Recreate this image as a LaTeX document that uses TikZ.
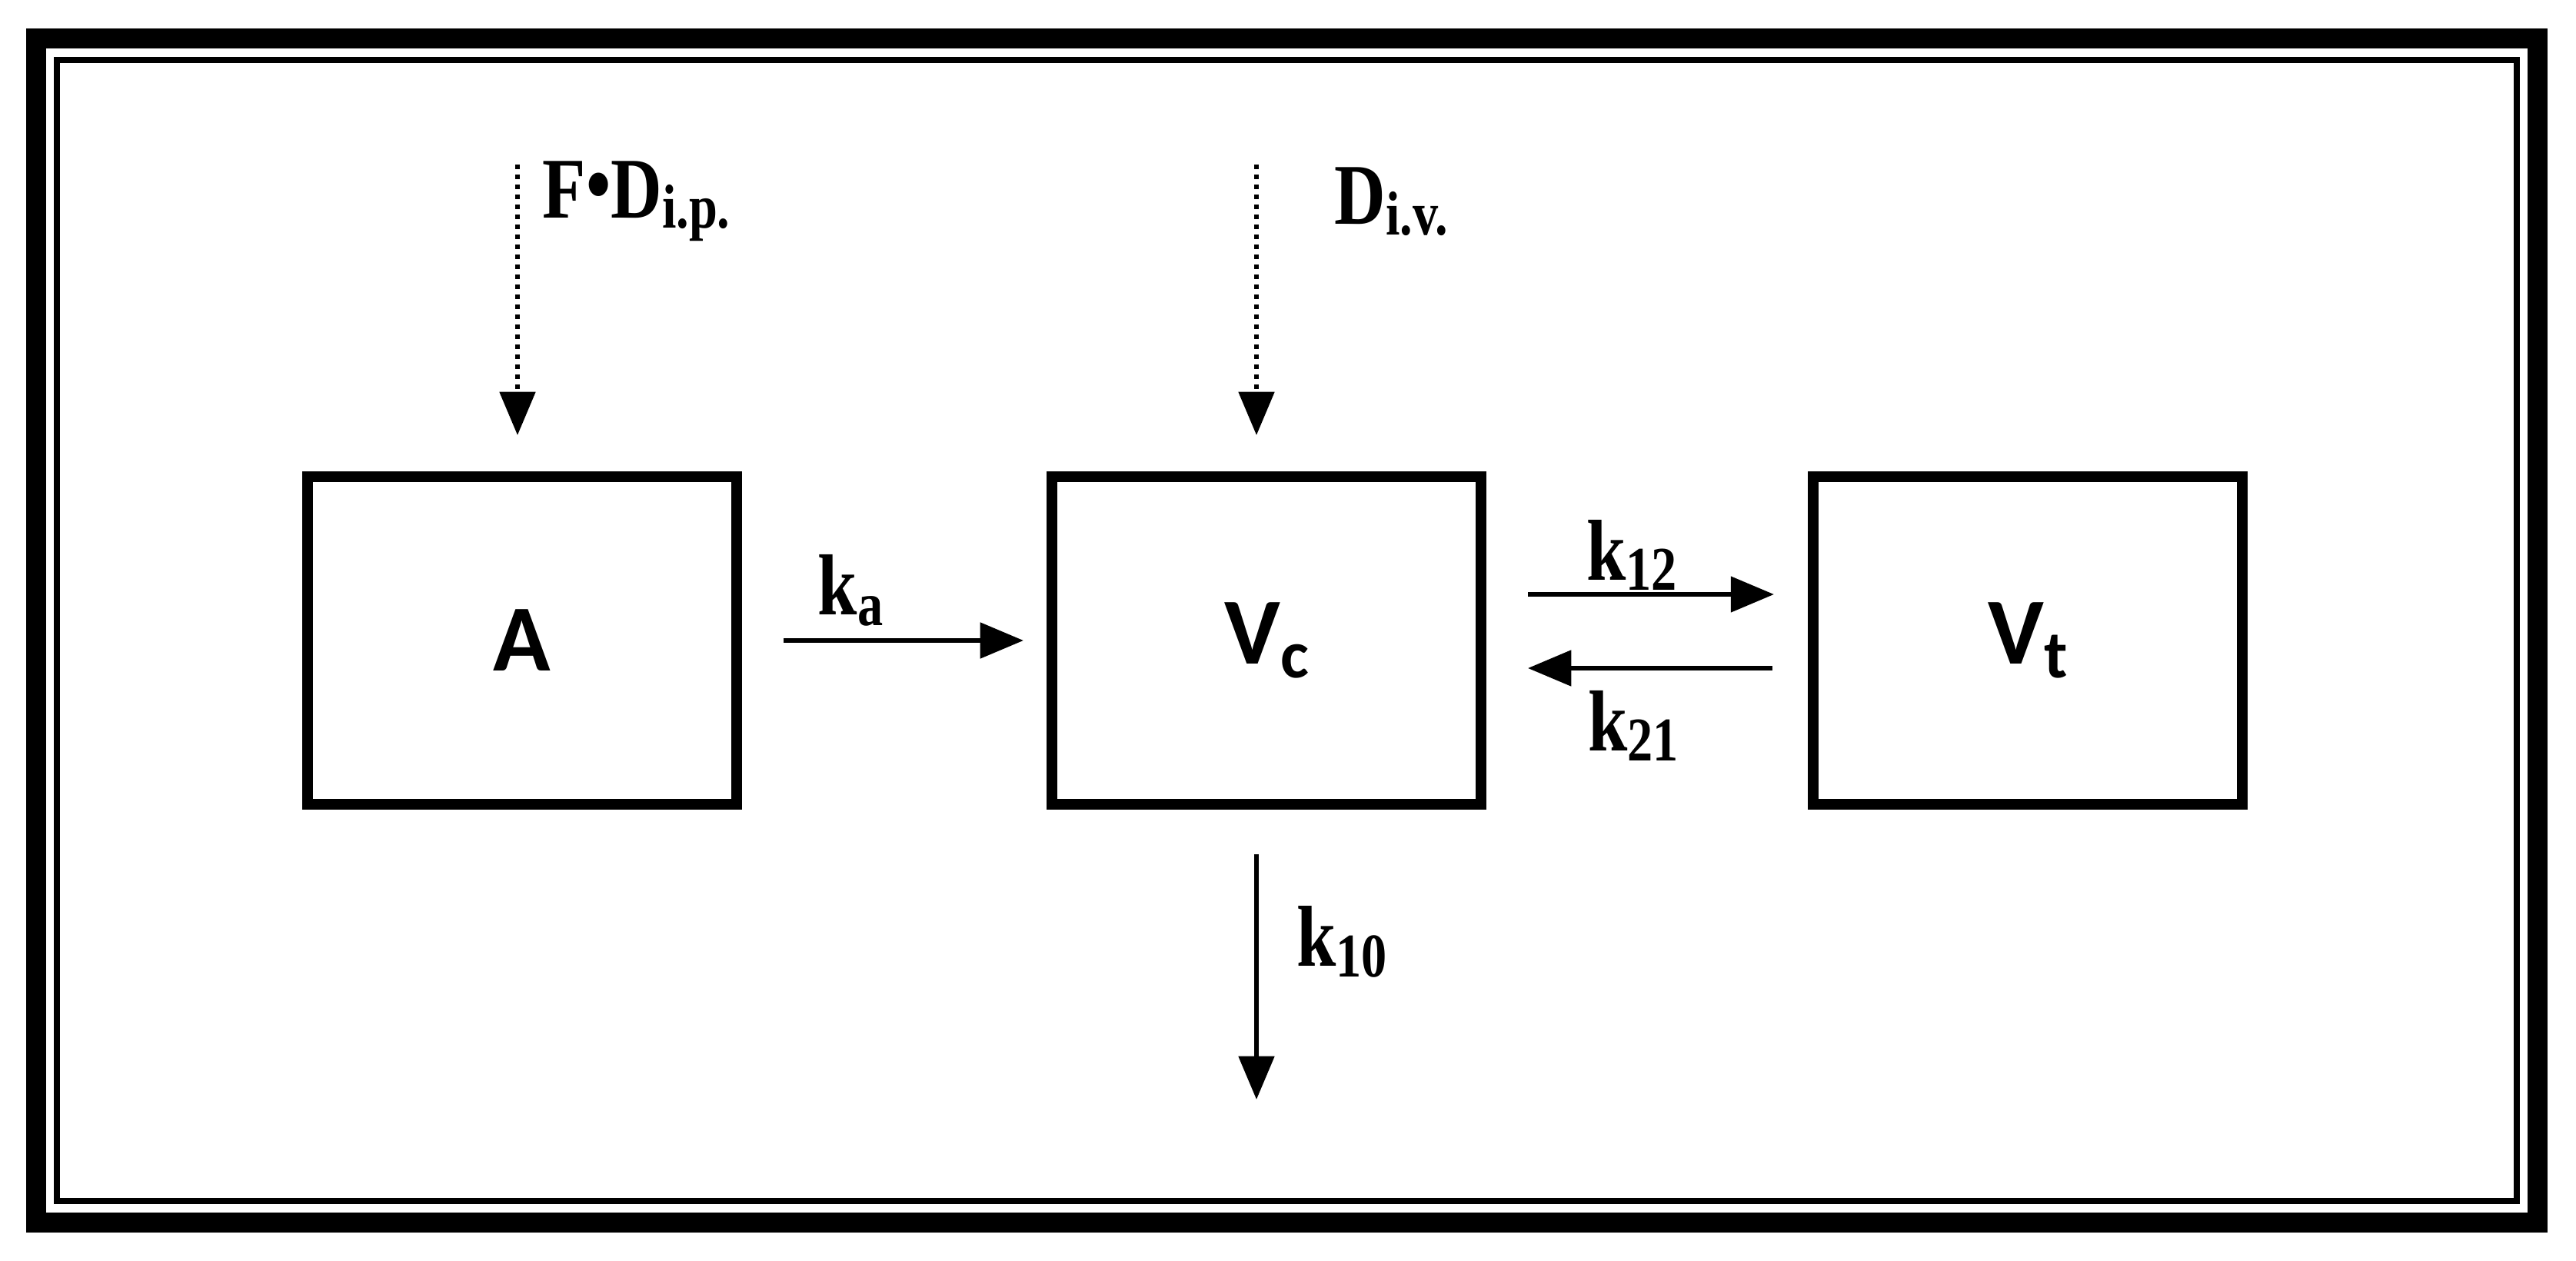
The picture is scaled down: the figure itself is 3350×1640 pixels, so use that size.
\documentclass[tikz,border=0pt]{standalone}
\usepackage{fontspec}
\setmainfont{Liberation Serif}
\newfontfamily\boxfont{Carlito}
\usetikzlibrary{arrows.meta}
\newcommand{\lab}[2]{\scalebox{0.82}[1]{\bfseries\fontsize{32}{36}\selectfont #1\raisebox{-0.12em}{\fontsize{23}{26}\selectfont #2}}}
\begin{document}
\begin{tikzpicture}[x=0.01cm,y=-0.01cm,
  comp/.style={draw,line width=4pt,minimum width=572*0.01cm-4pt,minimum height=440*0.01cm-4pt,inner sep=0pt,font=\boxfont\bfseries\fontsize{35}{40}\selectfont},
  arr/.style={line width=1.7pt,-{Triangle[length=16pt,width=13pt]}},
  dot/.style={line width=1.7pt,dotted,-{Triangle[length=16pt,width=13pt]}},
  lbl/.style={inner sep=0pt}]
\useasboundingbox (0,0) rectangle (3350,1640);
\draw[line width=7.5pt] (47,50) rectangle (3300,1590);
\draw[line width=2.2pt] (74,78) rectangle (3273,1562);
\node[comp] (A) at (679,833) {A};
\node[comp] (Vc) at (1647,833) {V\raisebox{-0.15em}{\fontsize{25}{30}\selectfont c}};
\node[comp] (Vt) at (2637,833) {V\raisebox{-0.15em}{\fontsize{25}{30}\selectfont t}};
\coordinate (ipS) at (673,214);
\coordinate (ipE) at (673,566);
\coordinate (ivS) at (1634,214);
\coordinate (ivE) at (1634,566);
\draw[dot] (ipS) -- (ipE);
\draw[dot] (ivS) -- (ivE);
\node[lbl,anchor=west] (fd) at (705,262) {\lab{F\raisebox{0.05em}{\textbullet}D}{i.p.}};
\node[lbl,anchor=west] (div) at (1735,262) {\lab{D}{i.v.}};
\coordinate (kaS) at (1019,833);
\coordinate (kaE) at (1331,833);
\draw[arr] (kaS) -- (kaE);
\node[lbl] (ka) at (1106,768) {\lab{k}{a}};
\coordinate (k12S) at (1987,773);
\coordinate (k12E) at (2307,773);
\draw[arr] (k12S) -- (k12E);
\node[lbl] (k12) at (2122,722) {\lab{k}{12}};
\coordinate (k21S) at (2305,869);
\coordinate (k21E) at (1987,869);
\draw[arr] (k21S) -- (k21E);
\node[lbl] (k21) at (2124,944) {\lab{k}{21}};
\coordinate (k10S) at (1634,1111);
\coordinate (k10E) at (1634,1430);
\draw[arr] (k10S) -- (k10E);
\node[lbl] (k10) at (1745,1225) {\lab{k}{10}};
\end{tikzpicture}
\end{document}
